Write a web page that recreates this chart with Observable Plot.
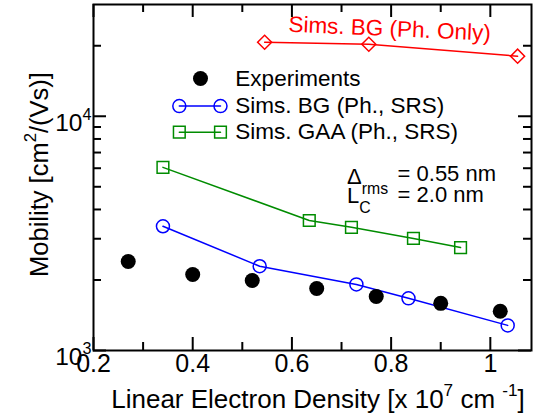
<!DOCTYPE html>
<html>
<head>
<meta charset="utf-8">
<script src="https://cdn.jsdelivr.net/npm/d3@7"></script>
<script src="https://cdn.jsdelivr.net/npm/@observablehq/plot@0.6"></script>
<style>
  html, body { margin: 0; padding: 0; background: white; }
</style>
</head>
<body>
<div id="chart"></div>
<script>
// ---- data ----
const expX = [0.27, 0.40, 0.52, 0.65, 0.77, 0.90, 1.02];
const expY = [2400, 2110, 1990, 1840, 1700, 1590, 1470];
const bgX = [0.34, 0.535, 0.73, 0.835, 1.035];
const bgY = [3390, 2290, 1915, 1670, 1280];
const gaaX = [0.34, 0.635, 0.72, 0.845, 0.94];
const gaaY = [6050, 3590, 3355, 3010, 2750];
const phX = [0.545, 0.755, 1.055];
const phY = [20700, 20300, 18050];

const xMajor = [0.2, 0.4, 0.6, 0.8, 1.0];
const xMinor = [0.3, 0.5, 0.7, 0.9];
const yMajor = [1000, 10000];
const yMinor = [2000, 3000, 4000, 5000, 6000, 7000, 8000, 9000, 20000];

const legendLabels = ["Experiments", "Sims. BG (Ph., SRS)", "Sims. GAA (Ph., SRS)"];
const legendY = [14500, 11050, 8550];
const legendSym = [0.373, 0.456];
const legendDotX = 0.4157;
const legendTextX = 0.486;

const BLUE = "#0000ff", GREEN = "#008c00", RED = "#ff0000";

const zip = (xs, ys) => xs.map((x, i) => ({x, y: ys[i]}));
const exp = zip(expX, expY), bg = zip(bgX, bgY), gaa = zip(gaaX, gaaY), ph = zip(phX, phY);

const W = 533, H = 418, ML = 93, MR = 2, MT = 4, MB = 68;
const PW = W - ML - MR, PH = H - MT - MB;
const MAJ = 13, MIN = 8;

const legendLine = (yv) => legendSym.map(x => ({x, y: yv}));

const plot = Plot.plot({
  width: W, height: H,
  marginLeft: ML, marginRight: MR, marginTop: MT, marginBottom: MB,
  style: {fontFamily: "'Liberation Sans', Arial, Helvetica, sans-serif", fontSize: "20px", background: "white", color: "black", overflow: "visible"},
  x: {domain: [0.2, 1.083], axis: null},
  y: {type: "log", domain: [1000, 30000], axis: null},
  marks: [
    // inward ticks, bottom/top
    Plot.tickX(xMajor, {x: d => d, insetTop: PH - MAJ, strokeWidth: 2}),
    Plot.tickX(xMajor, {x: d => d, insetBottom: PH - MAJ, strokeWidth: 2}),
    Plot.tickX(xMinor, {x: d => d, insetTop: PH - MIN, strokeWidth: 2}),
    Plot.tickX(xMinor, {x: d => d, insetBottom: PH - MIN, strokeWidth: 2}),
    // inward ticks, left/right
    Plot.tickY(yMajor, {y: d => d, insetRight: PW - MAJ, strokeWidth: 2}),
    Plot.tickY(yMajor, {y: d => d, insetLeft: PW - MAJ, strokeWidth: 2}),
    Plot.tickY(yMinor, {y: d => d, insetRight: PW - MIN, strokeWidth: 2}),
    Plot.tickY(yMinor, {y: d => d, insetLeft: PW - MIN, strokeWidth: 2}),
    Plot.frame({strokeWidth: 2}),
    // tick labels
    Plot.axisX(xMajor, {tickSize: 0, tickPadding: 4, fontSize: 25, label: null,
      tickFormat: d => d === 1 ? "1" : d.toFixed(1)}),
    Plot.axisY(yMajor, {tickSize: 0, tickPadding: 2, fontSize: 24.5, label: null, dy: 7,
      tickFormat: d => `10^{${Math.round(Math.log10(d))}}`}),
    // axis titles
    Plot.text(["Linear Electron Density [x 10^{7} cm ^{-1}]"], {frameAnchor: "bottom", textAnchor: "middle", lineAnchor: "middle", dx: 5.5, dy: 49, fontSize: 26, text: d => d}),
    Plot.text(["Mobility [cm^{2}/(Vs)]"], {frameAnchor: "left", textAnchor: "middle", lineAnchor: "middle", rotate: -90, dx: -54, dy: -3, fontSize: 25.5, text: d => d}),
    // series
    Plot.line(ph, {x: "x", y: "y", stroke: RED, strokeWidth: 1.5}),
    Plot.dot(ph, {x: "x", y: "y", symbol: "square", rotate: 45, r: 5.6, stroke: RED, strokeWidth: 1.5, fill: "none"}),
    Plot.line(gaa, {x: "x", y: "y", stroke: GREEN, strokeWidth: 1.5}),
    Plot.dot(gaa, {x: "x", y: "y", symbol: "square", r: 6.6, stroke: GREEN, strokeWidth: 1.5, fill: "none"}),
    Plot.line(bg, {x: "x", y: "y", stroke: BLUE, strokeWidth: 1.5}),
    Plot.dot(bg, {x: "x", y: "y", symbol: "circle", r: 6.5, stroke: BLUE, strokeWidth: 1.5, fill: "none"}),
    Plot.dot(exp, {x: "x", y: "y", r: 7.5, fill: "black"}),
    // legend
    Plot.dot([{x: legendDotX, y: legendY[0]}], {x: "x", y: "y", r: 7.5, fill: "black"}),
    Plot.line(legendLine(legendY[1]), {x: "x", y: "y", stroke: BLUE, strokeWidth: 1.5}),
    Plot.dot(legendLine(legendY[1]), {x: "x", y: "y", symbol: "circle", r: 6.5, stroke: BLUE, strokeWidth: 1.5, fill: "none"}),
    Plot.line(legendLine(legendY[2]), {x: "x", y: "y", stroke: GREEN, strokeWidth: 1.5}),
    Plot.dot(legendLine(legendY[2]), {x: "x", y: "y", symbol: "square", r: 6.6, stroke: GREEN, strokeWidth: 1.5, fill: "none"}),
    Plot.text(legendLabels, {x: legendTextX, y: (d, i) => legendY[i], text: d => d, textAnchor: "start", fontSize: 22.5}),
    // annotations
    Plot.text(["Sims. BG (Ph. Only)"], {x: 0.797, y: 23600, text: d => d, rotate: 2.5, fill: RED, fontSize: 22.5}),
    Plot.text(["Δ_{rms}", "L_{C}"], {x: 0.711, y: (d, i) => [5500, 4580][i], text: d => d, textAnchor: "start", fontSize: 22}),
    Plot.text(["= 0.55 nm", "= 2.0 nm"], {x: 0.813, y: (d, i) => [5650, 4600][i], text: d => d, textAnchor: "start", fontSize: 22})
  ]
});

document.getElementById("chart").appendChild(plot);

// turn ^{..} and _{..} into real superscript / subscript tspans
d3.select(plot).selectAll("text").each(function () {
  const s = this.textContent;
  if (!/[\^_]\{/.test(s)) return;
  const fs = parseFloat(getComputedStyle(this).fontSize) || 20;
  const el = this;
  el.textContent = "";
  const re = /([\^_])\{([^}]*)\}/g;
  let last = 0, m, off = 0;
  const add = (txt, target, size) => {
    const t = d3.select(el).append("tspan").text(txt);
    if (size) t.attr("font-size", size);
    const d = target - off;
    if (d) t.attr("dy", d);
    off = target;
  };
  while ((m = re.exec(s))) {
    if (m.index > last) add(s.slice(last, m.index), 0);
    const sup = m[1] === "^";
    add(m[2], sup ? -fs * 0.45 : fs * 0.45, fs * (sup ? 0.66 : 0.72));
    last = re.lastIndex;
  }
  if (last < s.length) add(s.slice(last), 0);
});
</script>
</body>
</html>
